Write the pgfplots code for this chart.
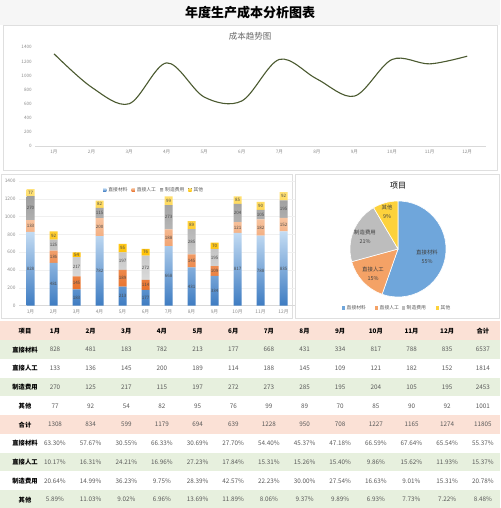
\documentclass[border=0pt]{standalone}
\usepackage{pgfplots}
\usepackage{pgfplotstable}
\pgfplotsset{compat=1.18}
\usepackage{fontspec}
\setmainfont{Noto Sans CJK SC}

\definecolor{linecol}{HTML}{4B5A30}
\definecolor{tickcol}{HTML}{8C8C8C}
\definecolor{bluetop}{HTML}{C4DCF3}
\definecolor{bluebot}{HTML}{3E7CC2}
\definecolor{ortop}{HTML}{F7C4A0}
\definecolor{orbot}{HTML}{E9712A}
\definecolor{grtop}{HTML}{9E9E9E}
\definecolor{grbot}{HTML}{DADADA}
\definecolor{yetop}{HTML}{FFE27A}
\definecolor{yebot}{HTML}{FFC000}
\definecolor{pieblue}{HTML}{6FA6DB}
\definecolor{pieorange}{HTML}{F4A266}
\definecolor{piegray}{HTML}{BDBDBD}
\definecolor{pieyellow}{HTML}{FDD23C}
\definecolor{peach}{HTML}{FBE1D6}
\definecolor{mint}{HTML}{E7F0DE}
\definecolor{numcol}{HTML}{595959}

% monthly costs: a = direct material, b = direct labour, c = overhead, d = other
\pgfplotstableread{
m a   b   c   d
1 828 133 270 77
2 481 136 125 92
3 183 145 217 54
4 782 200 115 82
5 213 189 197 95
6 177 114 272 76
7 668 188 273 99
8 431 145 285 89
9 334 109 195 70
10 817 121 204 85
11 788 182 105 90
12 835 152 195 92
}\costs
\pgfplotstablecreatecol[create col/expr={\thisrow{a}+\thisrow{b}+\thisrow{c}+\thisrow{d}}]{t}\costs
\pgfplotstablecreatecol[create col/expr={\thisrow{a}/2}]{am}\costs
\pgfplotstablecreatecol[create col/expr={\thisrow{a}+\thisrow{b}/2}]{bm}\costs
\pgfplotstablecreatecol[create col/expr={\thisrow{a}+\thisrow{b}+\thisrow{c}/2}]{cm}\costs
\pgfplotstablecreatecol[create col/expr={\thisrow{t}-\thisrow{d}/2}]{dm}\costs

\newcommand\fs[1]{\fontsize{#1}{#1}\selectfont}
\newcommand\trow[3]{%
  \node[font=\bfseries\fs{6.3}] at (25,{508-330.9-18.75*#1}) {#2};
  \foreach \v [count=\j from 0] in {#3}
    \node[text=numcol, font=\fs{6.3}] at ({55+35.65*\j},{508-330.9-18.75*#1}) {\v};
}

\begin{document}
\begin{tikzpicture}[x=1pt,y=1pt]
\useasboundingbox (0,0) rectangle (500,508);

% background, title
\fill[gray!7] (0,483) rectangle (500,508);
\node[font=\bfseries\fs{13}] at (250,495) {年度生产成本分析图表};

% panels
\draw[gray!25, fill=white] (3,338) rectangle (497,483);
\draw[gray!25, fill=white] (1,190) rectangle (292,334);
\draw[gray!25, fill=white] (295,190) rectangle (499,334);

% ---------- line chart ----------
\node[text=gray!80!black, font=\fs{8.5}] at (250,472) {成本趋势图};
\begin{axis}[
  at={(35.2pt,362pt)}, anchor=south west,
  width=450.8pt, height=98.7pt, scale only axis,
  xmin=0.5, xmax=12.5, ymin=0, ymax=1400,
  ytick={0,200,...,1400},
  xtick={1,...,12},
  xticklabels={1月,2月,3月,4月,5月,6月,7月,8月,9月,10月,11月,12月},
  axis x line*=bottom, axis y line*=left,
  x axis line style={gray!30}, y axis line style={draw=none},
  tick style={draw=none},
  tick label style={font=\fs{4.6}, text=tickcol},
  /pgf/number format/assume math mode=true,
  /pgf/number format/set thousands separator={},
  clip=false,
]
\addplot[linecol, line width=1.1pt, smooth, tension=0.55] table[x=m, y=t]{\costs};
\end{axis}

% ---------- stacked bar chart ----------
\begin{axis}[
  at={(19pt,202.3pt)}, anchor=south west,
  width=276pt, height=124.7pt, scale only axis,
  ybar stacked, bar width=8pt,
  xmin=0.5, xmax=12.5, ymin=0, ymax=1400,
  ytick={0,200,...,1400},
  xtick={1,...,12},
  xticklabels={1月,2月,3月,4月,5月,6月,7月,8月,9月,10月,11月,12月},
  axis x line*=bottom, axis y line*=left,
  x axis line style={gray!30}, y axis line style={draw=none},
  tick style={draw=none},
  ymajorgrids, grid style={gray!12},
  tick label style={font=\fs{4.8}, text=tickcol},
  /pgf/number format/assume math mode=true,
  /pgf/number format/set thousands separator={},
  legend style={at={(0.49,0.985)}, anchor=north, draw=none, fill=none,
    font=\fs{4.8}, text=numcol, legend columns=4,
    /tikz/every even column/.append style={column sep=2pt}},
  legend image code/.code={\fill[#1] (0pt,-1.6pt) rectangle (3.2pt,1.6pt);},
]
\addplot[draw=none, top color=bluetop, bottom color=bluebot] table[x=m, y=a]{\costs};
\addplot[draw=none, top color=ortop, bottom color=orbot] table[x=m, y=b]{\costs};
\addplot[draw=none, top color=grtop, bottom color=grbot] table[x=m, y=c]{\costs};
\addplot[draw=none, top color=yetop, bottom color=yebot] table[x=m, y=d]{\costs};
\legend{直接材料,直接人工,制造费用,其他}
\end{axis}

% segment labels
\begin{axis}[
  at={(19pt,202.3pt)}, anchor=south west,
  width=276pt, height=124.7pt, scale only axis,
  xmin=0.5, xmax=12.5, ymin=0, ymax=1400,
  hide axis, clip=false,
  every node near coord/.append style={font=\fs{4.5}, text=black!70, anchor=center, inner sep=0pt},
]
\addplot[only marks, mark=*, mark size=0pt, mark options={draw=none, fill=none},
  nodes near coords, point meta=explicit symbolic] table[x=m, y=am, meta=a]{\costs};
\addplot[only marks, mark=*, mark size=0pt, mark options={draw=none, fill=none},
  nodes near coords, point meta=explicit symbolic] table[x=m, y=bm, meta=b]{\costs};
\addplot[only marks, mark=*, mark size=0pt, mark options={draw=none, fill=none},
  nodes near coords, point meta=explicit symbolic] table[x=m, y=cm, meta=c]{\costs};
\addplot[only marks, mark=*, mark size=0pt, mark options={draw=none, fill=none},
  nodes near coords, point meta=explicit symbolic] table[x=m, y=dm, meta=d]{\costs};
\end{axis}

% ---------- pie chart ----------
\node[font=\fs{8}] at (398,322) {项目};
\pgfmathsetmacro\tot{6537+1814+2453+1001}
\pgfmathsetmacro\aA{90}
\pgfmathsetmacro\aB{\aA-6537/\tot*360}
\pgfmathsetmacro\aC{\aB-1814/\tot*360}
\pgfmathsetmacro\aD{\aC-2453/\tot*360}
\pgfmathsetmacro\aE{\aD-1001/\tot*360}
\begin{axis}[
  at={(398pt,259pt)}, anchor=center,
  width=96pt, height=96pt, scale only axis,
  xmin=-1, xmax=1, ymin=-1, ymax=1, hide axis, clip=false,
]
\filldraw[pieblue, draw=white, line width=0.6pt] (axis cs:0,0) -- ++(\aA:48pt) arc[start angle=\aA, end angle=\aB, radius=48pt] -- cycle;
\filldraw[pieorange, draw=white, line width=0.6pt] (axis cs:0,0) -- ++(\aB:48pt) arc[start angle=\aB, end angle=\aC, radius=48pt] -- cycle;
\filldraw[piegray, draw=white, line width=0.6pt] (axis cs:0,0) -- ++(\aC:48pt) arc[start angle=\aC, end angle=\aD, radius=48pt] -- cycle;
\filldraw[pieyellow, draw=white, line width=0.6pt] (axis cs:0,0) -- ++(\aD:48pt) arc[start angle=\aD, end angle=\aE, radius=48pt] -- cycle;
\end{axis}
\begin{scope}[every node/.style={font=\fs{5.4}, text=black!75, inner sep=0pt}]
\node at (427,256) {直接材料}; \node at (427,246.5) {55\%};
\node at (373,239) {直接人工}; \node at (373,229.5) {15\%};
\node at (365,276) {制造费用}; \node at (365,266.5) {21\%};
\node at (387,301) {其他}; \node at (387,291.5) {9\%};
\end{scope}
\begin{scope}[every node/.style={font=\fs{4.8}, text=numcol, anchor=west, inner sep=0pt}]
\fill[pieblue] (342,198.4) rectangle (345.2,201.6); \node at (346.5,200) {直接材料};
\fill[pieorange] (375,198.4) rectangle (378.2,201.6); \node at (379.5,200) {直接人工};
\fill[piegray] (402,198.4) rectangle (405.2,201.6); \node at (406.5,200) {制造费用};
\fill[pieyellow] (436,198.4) rectangle (439.2,201.6); \node at (440.5,200) {其他};
\end{scope}

% ---------- table ----------
\foreach \i/\c in {0/peach,1/mint,2/white,3/mint,4/white,5/peach,6/white,7/mint,8/white,9/mint}
  \fill[\c] (0,{508-321.5-18.75*\i}) rectangle (500,{508-321.5-18.75*(\i+1)});
\node[font=\bfseries\fs{6.3}] at (25,{508-330.9}) {项目};
\foreach \v [count=\j from 0] in {1月,2月,3月,4月,5月,6月,7月,8月,9月,10月,11月,12月,合计}
  \node[font=\bfseries\fs{6.3}] at ({55+35.65*\j},{508-330.9}) {\v};
\trow{1}{直接材料}{828,481,183,782,213,177,668,431,334,817,788,835,6537}
\trow{2}{直接人工}{133,136,145,200,189,114,188,145,109,121,182,152,1814}
\trow{3}{制造费用}{270,125,217,115,197,272,273,285,195,204,105,195,2453}
\trow{4}{其他}{77,92,54,82,95,76,99,89,70,85,90,92,1001}
\trow{5}{合计}{1308,834,599,1179,694,639,1228,950,708,1227,1165,1274,11805}
\trow{6}{直接材料}{63.30\%,57.67\%,30.55\%,66.33\%,30.69\%,27.70\%,54.40\%,45.37\%,47.18\%,66.59\%,67.64\%,65.54\%,55.37\%}
\trow{7}{直接人工}{10.17\%,16.31\%,24.21\%,16.96\%,27.23\%,17.84\%,15.31\%,15.26\%,15.40\%,9.86\%,15.62\%,11.93\%,15.37\%}
\trow{8}{制造费用}{20.64\%,14.99\%,36.23\%,9.75\%,28.39\%,42.57\%,22.23\%,30.00\%,27.54\%,16.63\%,9.01\%,15.31\%,20.78\%}
\trow{9}{其他}{5.89\%,11.03\%,9.02\%,6.96\%,13.69\%,11.89\%,8.06\%,9.37\%,9.89\%,6.93\%,7.73\%,7.22\%,8.48\%}
\end{tikzpicture}
\end{document}
